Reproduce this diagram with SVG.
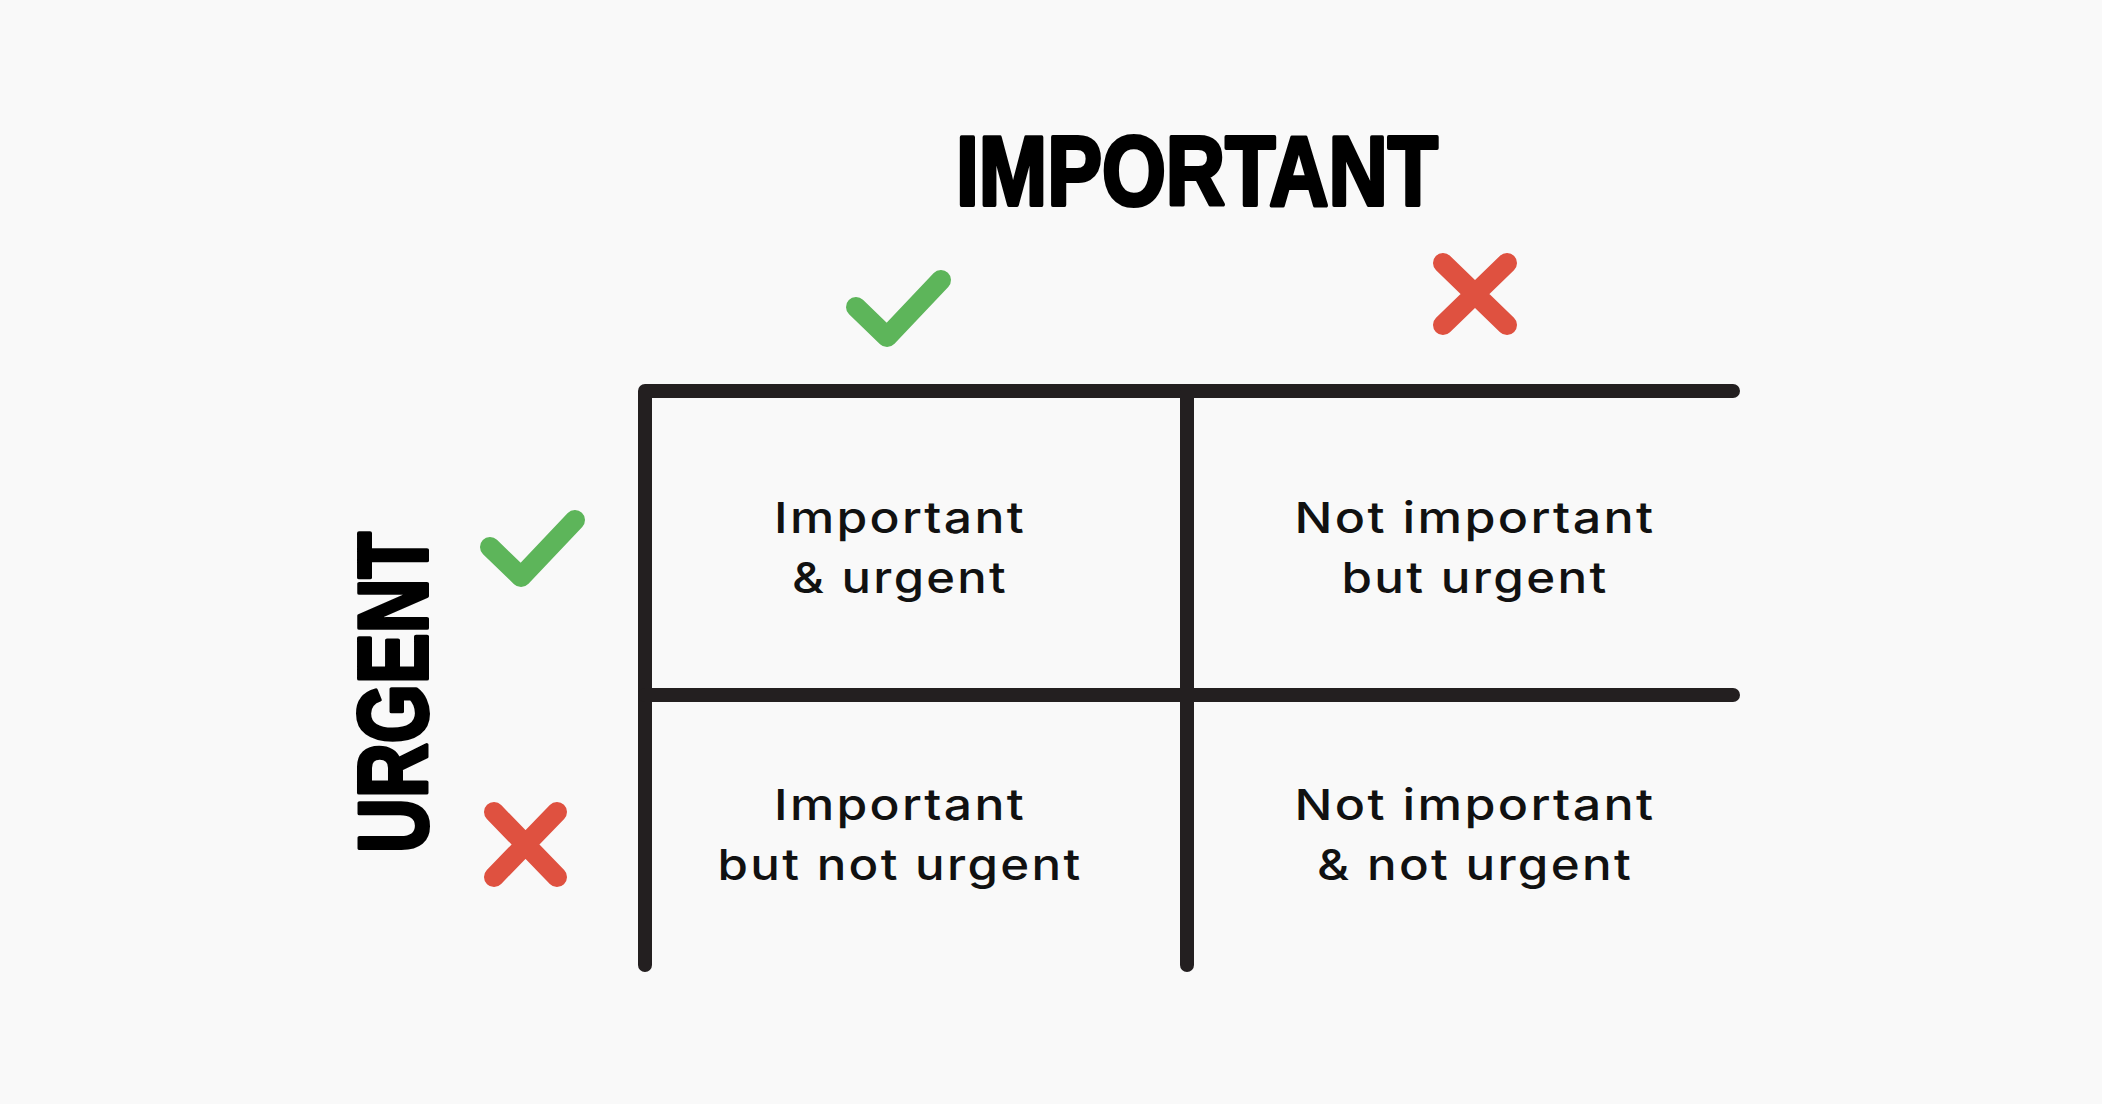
<svg xmlns="http://www.w3.org/2000/svg" width="2102" height="1104" viewBox="0 0 2102 1104">
  <style>
    .axis { font-family: "Liberation Sans", Arial, sans-serif; font-weight: 700; font-size: 98px; fill: #000; stroke: #000; stroke-width: 4px; stroke-linejoin: round; }
    .cell { font-family: Inter, Lato, sans-serif; font-size: 43px; font-weight: 500; letter-spacing: 2px; fill: #111; text-anchor: middle; }
    .grid { fill: none; stroke: #231f20; stroke-width: 14; stroke-linecap: round; stroke-linejoin: round; }
    .yes { fill: none; stroke: #5db55a; stroke-width: 20; stroke-linecap: round; stroke-linejoin: round; }
    .no { fill: none; stroke: #df5140; stroke-width: 20; stroke-linecap: round; }
  </style>
  <rect width="2102" height="1104" fill="#f9f9f9"/>

  <!-- axis titles -->
  <g id="title-important">
    <text class="axis" x="956" y="205" textLength="482" lengthAdjust="spacingAndGlyphs">IMPORTANT</text>
  </g>
  <g id="title-urgent">
    <text class="axis" transform="translate(427,853) rotate(-90)" textLength="321" lengthAdjust="spacingAndGlyphs">URGENT</text>
  </g>

  <!-- column / row markers -->
  <g id="mark-important-yes">
    <path class="yes" d="M856,307 L887,337 L941,280"/>
  </g>
  <g id="mark-important-no">
    <path class="no" d="M1443,263 L1507,325 M1507,263 L1443,325"/>
  </g>
  <g id="mark-urgent-yes">
    <path class="yes" d="M490,547 L521,577 L575,520"/>
  </g>
  <g id="mark-urgent-no">
    <path class="no" d="M494,812 L557,877 M557,812 L494,877"/>
  </g>

  <!-- matrix lines -->
  <g id="grid-lines">
    <path class="grid" d="M645,965 V391 H1733"/>
    <path class="grid" d="M1187,391 V965"/>
    <path class="grid" d="M645,695 H1733"/>
  </g>

  <!-- quadrants -->
  <g id="q-important-urgent">
    <text class="cell" x="900" y="533" textLength="252" lengthAdjust="spacingAndGlyphs">Important</text>
    <text class="cell" x="900" y="593" textLength="216" lengthAdjust="spacingAndGlyphs">&amp; urgent</text>
  </g>
  <g id="q-notimportant-urgent">
    <text class="cell" x="1475" y="533" textLength="361" lengthAdjust="spacingAndGlyphs">Not important</text>
    <text class="cell" x="1475" y="593" textLength="267" lengthAdjust="spacingAndGlyphs">but urgent</text>
  </g>
  <g id="q-important-noturgent">
    <text class="cell" x="900" y="820" textLength="252" lengthAdjust="spacingAndGlyphs">Important</text>
    <text class="cell" x="900" y="880" textLength="365" lengthAdjust="spacingAndGlyphs">but not urgent</text>
  </g>
  <g id="q-notimportant-noturgent">
    <text class="cell" x="1475" y="820" textLength="361" lengthAdjust="spacingAndGlyphs">Not important</text>
    <text class="cell" x="1475" y="880" textLength="316" lengthAdjust="spacingAndGlyphs">&amp; not urgent</text>
  </g>
</svg>
